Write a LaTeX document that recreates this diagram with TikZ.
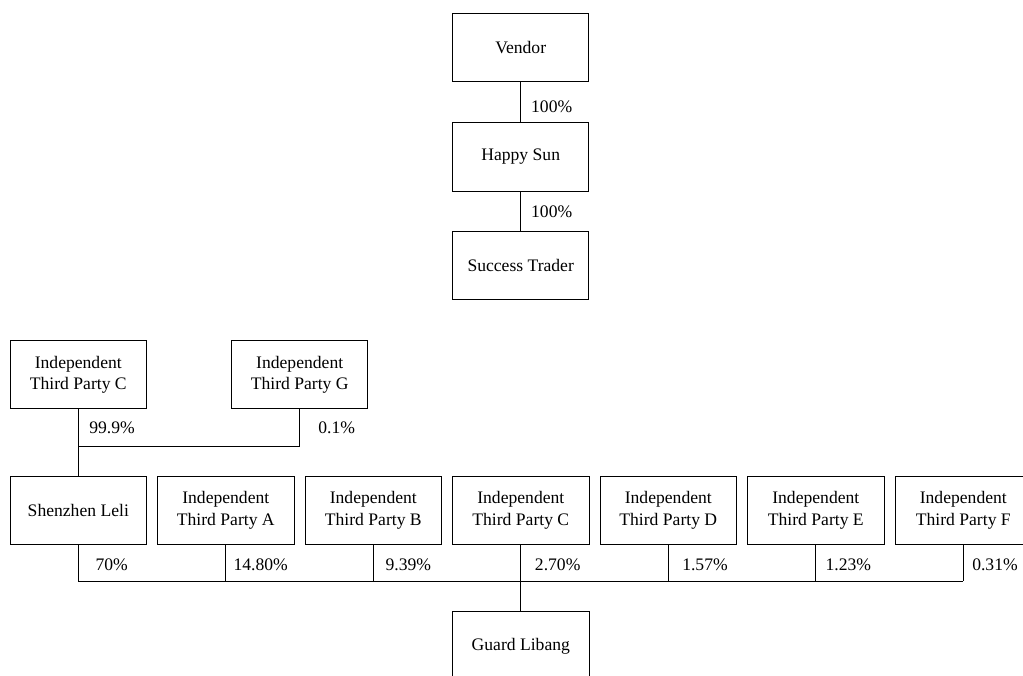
\documentclass[tikz,border=0pt]{standalone}
\usepackage{fontspec}
\setmainfont{Liberation Serif}[Ligatures=TeX]
\begin{document}
\begin{tikzpicture}[x=1pt,y=-1pt,
  box/.style={draw, line width=1pt, minimum width=136.5pt, minimum height=68.5pt, inner sep=0pt, align=center, font=\rmfamily\fontsize{17.6}{21.3}\selectfont},
  pct/.style={inner sep=0pt, font=\rmfamily\fontsize{17.6}{21.3}\selectfont},
  conn/.style={line width=1pt}]
\useasboundingbox (0,0) rectangle (1023,675);
\clip (0,0) rectangle (1023,675);
% top chain
\node[box] (vendor) at (520.7,47.7) {Vendor};
\node[box] (happy) at (520.7,157) {Happy Sun};
\node[box] (success) at (520.7,265.5) {Success Trader};
\draw[conn] (vendor.south) -- (happy.north);
\draw[conn] (happy.south) -- (success.north);
\node[pct] (p1) at (551.7,106.7) {100\%};
\node[pct] (p2) at (551.7,211.7) {100\%};
% Shenzhen Leli owners
\node[box] (tc) at (78.3,374.5) {Independent\\Third Party C};
\node[box] (tg) at (299.7,374.5) {Independent\\Third Party G};
% row
\node[box] (sl) at (78.3,510.4) {Shenzhen Leli};
\node[box] (ta) at (225.8,510.4) {Independent\\Third Party A};
\node[box] (tb) at (373.3,510.4) {Independent\\Third Party B};
\node[box] (tc2) at (520.8,510.4) {Independent\\Third Party C};
\node[box] (td) at (668.3,510.4) {Independent\\Third Party D};
\node[box] (te) at (815.8,510.4) {Independent\\Third Party E};
\node[box] (tf) at (963.3,510.4) {Independent\\Third Party F};
\node[box] (guard) at (520.8,646) {Guard Libang};
% connectors to Shenzhen Leli
\coordinate (j1) at (78.3,446.7);
\draw[conn] (tc.south) -- (j1) -| (tg.south);
\draw[conn] (j1) -- (sl.north);
\node[pct] (p3) at (112,428) {99.9\%};
\node[pct] (p4) at (336.7,428) {0.1\%};
% bottom bus
\coordinate (bus) at (520.8,581);
\foreach \n in {sl,ta,tb,tc2,td,te,tf}{
  \draw[conn] (\n.south) -- (\n.south |- bus);
}
\draw[conn] (sl.south |- bus) -- (tf.south |- bus);
\draw[conn] (bus) -- (guard.north);
\node[pct] (q1) at (111.7,564.5) {70\%};
\node[pct] (q2) at (260.7,564.5) {14.80\%};
\node[pct] (q3) at (408.3,564.5) {9.39\%};
\node[pct] (q4) at (557.7,564.5) {2.70\%};
\node[pct] (q5) at (705,564.5) {1.57\%};
\node[pct] (q6) at (848.3,564.5) {1.23\%};
\node[pct] (q7) at (995,564.5) {0.31\%};
\end{tikzpicture}
\end{document}
